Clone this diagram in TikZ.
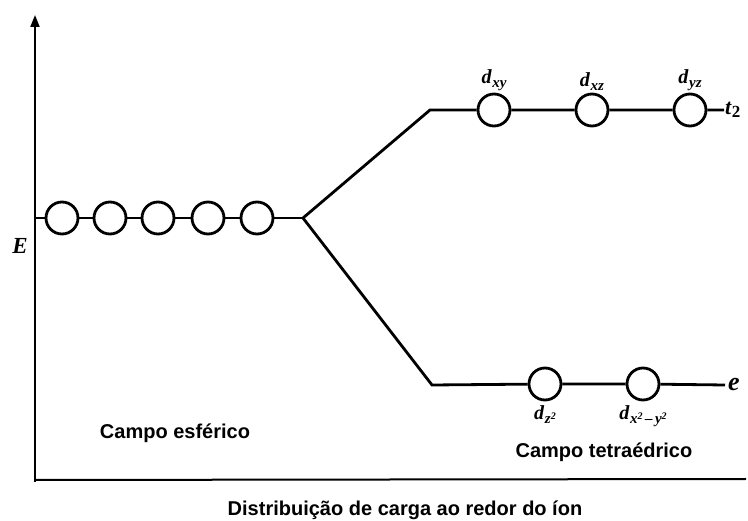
\documentclass[tikz,border=0pt]{standalone}
\usepackage{fontspec}
\setmainfont{Liberation Serif}
\setsansfont{Liberation Sans}
\usetikzlibrary{arrows.meta}

% orbital names: bold italic d with a large subscript
\newcommand{\dorb}[1]{\textbf{\textit{d}}\kern0.5pt\raisebox{-4pt}{\fontsize{15}{15}\selectfont\textbf{\textit{#1}}}}
\newcommand{\sqd}{\raisebox{4pt}{\fontsize{10}{10}\selectfont\textbf{2}}}

\begin{document}
\begin{tikzpicture}[
    x=1pt,
    y=-1pt,
    >={Triangle[length=12pt,width=9pt]},
    orbital/.style={
      draw,
      circle,
      minimum size=32pt,
      inner sep=0pt,
      line width=2.8pt
    },
    level/.style={
      line width=2.8pt
    },
    axis/.style={
      line width=2pt
    },
    caption/.style={
      font=\fontsize{20}{24}\selectfont\sffamily\bfseries
    },
    orblabel/.style={
      font=\fontsize{20}{24}\selectfont,
      inner sep=1pt
    }
  ]
    \useasboundingbox (0,0) rectangle (748,521);

    % axes
    \coordinate (origin) at (35,480);
    \coordinate (top) at (35,15);
    \coordinate (right) at (746,479);
    \draw[axis,->] (35,482) -- (top);
    \draw[axis] (origin) -- (right);
    \node[orblabel,font=\fontsize{23}{27}\selectfont] (E) at (20,246) {\textbf{\textit{E}}};

    % spherical field
    \coordinate (a0) at (35,218);
    \coordinate (split) at (303,218);
    \foreach \x/\n in {62/1,110/2,158/3,208/4,257/5}
      \node[orbital] (s\n) at (\x,218) {};
    \draw[level] (a0) -- (s1) -- (s2) -- (s3) -- (s4) -- (s5) -- (split);

    % t2 level
    \coordinate (tb) at (430,110);
    \coordinate (tend) at (724,110);
    \foreach \x/\n/\l in {494/1/xy,592/2/xz,690/3/yz}
      \node[orbital,label={[orblabel,label distance=1pt]above:\dorb{\l}}] (t\n) at (\x,110) {};
    \draw[level] (split) -- (tb) -- (t1) -- (t2) -- (t3) -- (tend);
    \node[orblabel,anchor=west,inner sep=1pt,font=\fontsize{22}{26}\selectfont] (t2lab) at (tend) {\textbf{\textit{t}}\raisebox{-3pt}{\fontsize{17}{17}\selectfont\textbf{2}}};

    % e level
    \coordinate (eb) at (432,385);
    \coordinate (eend) at (725,385);
    \node[orbital,label={[orblabel,label distance=3pt]below:\dorb{z\sqd}}] (e1) at (545,384) {};
    \node[orbital,label={[orblabel,label distance=3pt]below:\dorb{x\sqd\,--\,y\sqd}}] (e2) at (643,384) {};
    \draw[level] (split) -- (eb) -- (e1) -- (e2) -- (eend);
    \node[orblabel,anchor=west,inner sep=3pt,font=\fontsize{26}{30}\selectfont] (elab) at (eend) {\textbf{\textit{e}}};

    % captions
    \node[caption] (sph) at (175,433) {Campo esférico};
    \node[caption] (tet) at (604,452) {Campo tetraédrico};
    \node[caption] (dist) at (405,510) {Distribuição de carga ao redor do íon};
  \end{tikzpicture}
\end{document}
